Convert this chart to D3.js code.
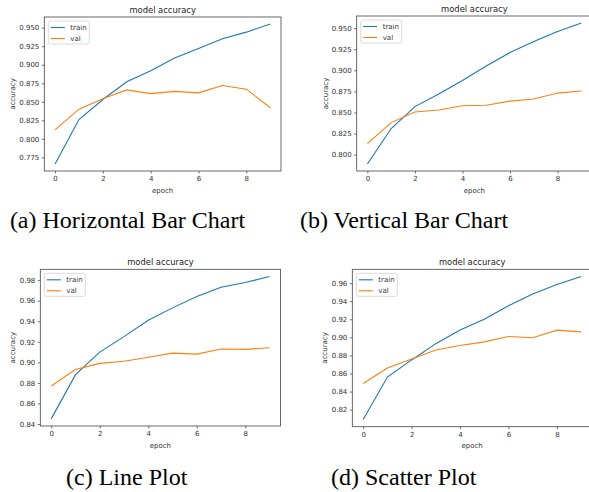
<!DOCTYPE html>
<html>
<head>
<meta charset="utf-8">
<script src="https://cdn.jsdelivr.net/npm/d3@7"></script>
<style>
  body { margin: 0; background: #fff; }
  svg text { font-family: "DejaVu Sans", sans-serif; }
</style>
</head>
<body>
<svg id="fig" width="589" height="492"></svg>
<script>
// data
const epochs = [0, 1, 2, 3, 4, 5, 6, 7, 8, 9];
const xTicks = [0, 2, 4, 6, 8];

const trainA = [0.766, 0.826, 0.853, 0.877, 0.892, 0.909, 0.922, 0.935, 0.944, 0.955];
const valA   = [0.812, 0.840, 0.854, 0.866, 0.861, 0.864, 0.862, 0.872, 0.867, 0.842];
const trainB = [0.789, 0.831, 0.857, 0.872, 0.888, 0.905, 0.921, 0.934, 0.946, 0.956];
const valB   = [0.813, 0.838, 0.8505, 0.853, 0.858, 0.8585, 0.8635, 0.866, 0.873, 0.8755];
const trainC = [0.845, 0.888, 0.910, 0.925, 0.941, 0.953, 0.964, 0.973, 0.9777, 0.9836];
const valC   = [0.877, 0.893, 0.899, 0.901, 0.905, 0.909, 0.908, 0.913, 0.9126, 0.9142];
const trainD = [0.809, 0.856, 0.875, 0.893, 0.908, 0.920, 0.935, 0.948, 0.9585, 0.9674];
const valD   = [0.849, 0.866, 0.876, 0.886, 0.891, 0.895, 0.901, 0.8995, 0.908, 0.906];

const yTicksA = [0.775, 0.800, 0.825, 0.850, 0.875, 0.900, 0.925, 0.950];
const yTicksB = [0.800, 0.825, 0.850, 0.875, 0.900, 0.925, 0.950];
const yTicksC = [0.84, 0.86, 0.88, 0.90, 0.92, 0.94, 0.96, 0.98];
const yTicksD = [0.82, 0.84, 0.86, 0.88, 0.90, 0.92, 0.94, 0.96];

const seriesNames = ["train", "val"];
const captions = ["(a) Horizontal Bar Chart", "(b) Vertical Bar Chart", "(c) Line Plot", "(d) Scatter Plot"];

// layout of each subplot
const panels = [
  { train: trainA, val: valA, yTicks: yTicksA, fmt: ".3f", left: 44.3, right: 281, top: 17, bottom: 171, capX: 127.5, capY: 228 },
  { train: trainB, val: valB, yTicks: yTicksB, fmt: ".3f", left: 356.7, right: 592, top: 16, bottom: 171, capX: 404, capY: 228 },
  { train: trainC, val: valC, yTicks: yTicksC, fmt: ".2f", left: 40.3, right: 280.5, top: 269.3, bottom: 426, capX: 126.7, capY: 485 },
  { train: trainD, val: valD, yTicks: yTicksD, fmt: ".2f", left: 352.3, right: 592, top: 269.3, bottom: 426.7, capX: 403.7, capY: 485 }
];

const colors = ["#1f77b4", "#ff7f0e"];
const svg = d3.select("#fig");
svg.append("rect").attr("width", 589).attr("height", 492).attr("fill", "#fff");

panels.forEach((p, i) => {
  const all = p.train.concat(p.val);
  const [lo, hi] = d3.extent(all);
  const pad = (hi - lo) * 0.05;

  const x = d3.scaleLinear().domain([-0.45, 9.45]).range([p.left, p.right]);
  const y = d3.scaleLinear().domain([lo - pad, hi + pad]).range([p.bottom, p.top]);

  const g = svg.append("g");

  // lines
  const line = d3.line().x((d, j) => x(epochs[j])).y(d => y(d));
  [p.train, p.val].forEach((s, k) => {
    g.append("path")
      .datum(s)
      .attr("d", line)
      .attr("fill", "none")
      .attr("stroke", colors[k])
      .attr("stroke-width", 1.1);
  });

  // axes
  const xAxis = g.append("g")
    .attr("transform", `translate(0,${p.bottom})`)
    .call(d3.axisBottom(x).tickValues(xTicks).tickSize(2.5).tickPadding(2.5).tickFormat(d3.format("d")));
  const yAxis = g.append("g")
    .attr("transform", `translate(${p.left},0)`)
    .call(d3.axisLeft(y).tickValues(p.yTicks).tickSize(2.5).tickPadding(2.5).tickFormat(d3.format(p.fmt)));

  [xAxis, yAxis].forEach(a => {
    a.select(".domain").remove();
    a.selectAll("line").attr("stroke", "#333").attr("stroke-width", 0.7);
    a.selectAll("text").attr("font-size", 7).attr("fill", "#333")
      .attr("font-family", "DejaVu Sans, sans-serif");
  });

  // frame
  g.append("rect")
    .attr("x", p.left).attr("y", p.top)
    .attr("width", p.right - p.left).attr("height", p.bottom - p.top)
    .attr("fill", "none").attr("stroke", "#444").attr("stroke-width", 0.8);

  // title and labels
  g.append("text")
    .attr("x", (p.left + p.right) / 2).attr("y", p.top - 4)
    .attr("text-anchor", "middle").attr("font-size", 8.4).attr("fill", "#222")
    .text("model accuracy");

  g.append("text")
    .attr("x", (p.left + p.right) / 2).attr("y", p.bottom + 21.5)
    .attr("text-anchor", "middle").attr("font-size", 7).attr("fill", "#333")
    .text("epoch");

  let maxW = 0;
  yAxis.selectAll("text").each(function () { maxW = Math.max(maxW, this.getBBox().width); });
  const lx = p.left - 5 - maxW - 6.6;
  g.append("text")
    .attr("transform", `translate(${lx},${(p.top + p.bottom) / 2}) rotate(-90)`)
    .attr("text-anchor", "middle").attr("dy", "0.35em")
    .attr("font-size", 7).attr("fill", "#333")
    .text("accuracy");

  // legend
  const lg = g.append("g").attr("transform", `translate(${p.left + 4},${p.top + 4})`);
  lg.append("rect")
    .attr("width", 41).attr("height", 23).attr("rx", 2)
    .attr("fill", "#fff").attr("fill-opacity", 0.8)
    .attr("stroke", "#ccc").attr("stroke-width", 0.7);
  seriesNames.forEach((name, k) => {
    const cy = 6.5 + k * 11;
    lg.append("line")
      .attr("x1", 2.5).attr("x2", 16.5).attr("y1", cy).attr("y2", cy)
      .attr("stroke", colors[k]).attr("stroke-width", 1.1);
    lg.append("text")
      .attr("x", 22).attr("y", cy).attr("dy", "0.35em")
      .attr("font-size", 7).attr("fill", "#333")
      .text(name);
  });

  // caption under the subplot
  svg.append("text")
    .attr("x", p.capX).attr("y", p.capY)
    .attr("text-anchor", "middle")
    .attr("font-family", "Liberation Serif, Times New Roman, serif")
    .style("font-family", "'Liberation Serif', 'Times New Roman', serif")
    .attr("font-size", 24).attr("fill", "#000")
    .text(captions[i]);
});
</script>
</body>
</html>
